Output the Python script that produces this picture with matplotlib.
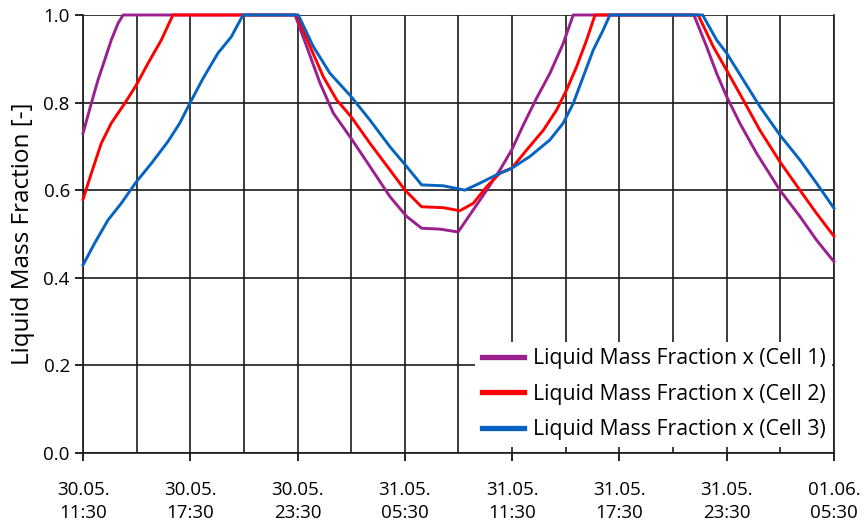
from matplotlib import pyplot as plt
from matplotlib.ticker import MultipleLocator, FuncFormatter
from datetime import datetime, timedelta

plt.rcParams['font.family'] = ['Open Sans', 'DejaVu Sans']

# start of the time axis (hours are counted from here)
start = datetime(2024, 5, 30, 11, 30)

# Cell 1: hours after start, liquid mass fraction
cell1_h = [0, 0.46, 0.84, 1.21, 1.58, 1.96, 2.24, 11.86, 12.51, 13.26, 14.0, 15.0, 16.05, 17.17,
           18.10, 18.94, 19.97, 20.90, 20.99, 21.83, 22.58, 23.32, 23.98, 24.63, 25.37, 26.12,
           26.86, 27.42, 34.17, 34.88, 35.44, 36.0, 36.74, 37.68, 38.98, 40.10, 41.03, 42.0]
cell1_x = [0.730, 0.798, 0.852, 0.897, 0.943, 0.981, 1.0, 1.0, 0.928, 0.844, 0.776, 0.718, 0.654,
           0.585, 0.540, 0.513, 0.511, 0.505, 0.505, 0.555, 0.600, 0.646, 0.692, 0.749, 0.810,
           0.867, 0.935, 1.0, 1.0, 0.928, 0.867, 0.814, 0.753, 0.684, 0.600, 0.540, 0.486, 0.437]

# Cell 2
cell2_h = [0, 0.46, 1.02, 1.58, 2.33, 2.98, 3.64, 4.38, 5.03, 11.95, 12.70, 13.44, 14.19, 14.99,
           16.05, 17.17, 18.01, 18.94, 20.15, 21.08, 21.83, 22.58, 23.32, 23.98, 24.82, 25.75,
           26.49, 27.05, 27.61, 28.17, 28.64, 34.41, 35.25, 36.0, 36.93, 37.86, 38.98, 40.10,
           41.03, 42.0]
cell2_x = [0.579, 0.638, 0.707, 0.753, 0.798, 0.840, 0.890, 0.943, 1.0, 1.0, 0.928, 0.859, 0.806,
           0.768, 0.707, 0.646, 0.600, 0.562, 0.560, 0.553, 0.570, 0.608, 0.639, 0.650, 0.692,
           0.737, 0.783, 0.829, 0.882, 0.943, 1.0, 1.0, 0.928, 0.874, 0.806, 0.737, 0.665, 0.600,
           0.547, 0.495]

# Cell 3
cell3_h = [0, 0.65, 1.40, 2.14, 2.98, 3.82, 4.75, 5.41, 5.97, 6.71, 7.55, 8.29, 8.95, 12.04,
           12.88, 13.81, 14.99, 16.05, 17.17, 18.10, 18.94, 20.15, 21.36, 22.20, 23.13, 23.98,
           25.00, 26.12, 26.86, 27.42, 27.98, 28.54, 29.10, 29.47, 34.66, 35.44, 36.0, 36.93,
           37.86, 38.98, 40.10, 41.03, 42.0]
cell3_x = [0.429, 0.479, 0.532, 0.570, 0.619, 0.661, 0.711, 0.753, 0.798, 0.855, 0.913, 0.950,
           1.0, 1.0, 0.928, 0.867, 0.814, 0.760, 0.699, 0.654, 0.612, 0.610, 0.600, 0.616, 0.635,
           0.650, 0.677, 0.715, 0.753, 0.798, 0.859, 0.920, 0.966, 1.0, 1.0, 0.943, 0.913, 0.852,
           0.791, 0.726, 0.669, 0.616, 0.559]

labels = ['Liquid Mass Fraction x (Cell 1)',
          'Liquid Mass Fraction x (Cell 2)',
          'Liquid Mass Fraction x (Cell 3)']
colors = ['#9b1f8f', '#ff0000', '#0563c1']

fig = plt.figure(figsize=(8.65, 5.26), dpi=100)
ax = fig.add_axes([0.096, 0.139, 0.868, 0.8325])

series = [(cell1_h, cell1_x), (cell2_h, cell2_x), (cell3_h, cell3_x)]
for (h, x), lab, c in zip(series, labels, colors):
    ax.plot(h, x, color=c, lw=2.1, label=lab, clip_on=False, zorder=3)

ax.set_xlim(0, 42)
ax.set_ylim(0, 1.0)


def time_label(h, pos):
    t = start + timedelta(hours=h)
    return t.strftime('%d.%m.\n%H:%M')


# labels every 6 hours, grid every 3 hours
ax.xaxis.set_major_locator(MultipleLocator(6))
ax.xaxis.set_minor_locator(MultipleLocator(3))
ax.xaxis.set_major_formatter(FuncFormatter(time_label))
ax.yaxis.set_major_locator(MultipleLocator(0.2))
ax.yaxis.set_major_formatter(FuncFormatter(lambda v, p: f'{v:.1f}'))

ax.grid(True, which='both', color='#1a1a1a', lw=1.2)
ax.tick_params(axis='x', which='major', length=6, width=1.2, labelsize=13.5, pad=14)
ax.tick_params(axis='x', which='minor', length=0)
ax.tick_params(axis='y', length=6, width=1.2, labelsize=13.5)
for lbl in ax.get_xticklabels():
    lbl.set_linespacing(1.35)

for s in ax.spines.values():
    s.set_color('#1a1a1a')
    s.set_linewidth(1.2)
ax.spines['top'].set_visible(False)

ax.set_ylabel('Liquid Mass Fraction [-]', fontsize=17.5, labelpad=6)

leg = ax.legend(loc='lower right', bbox_to_anchor=(1.006, 0), fontsize=15.3, frameon=True,
                framealpha=1, facecolor='white', edgecolor='none', handlelength=2.0,
                handletextpad=0.4, borderaxespad=0.3, labelspacing=0.68, borderpad=0.3)
leg.set_zorder(5)
for line in leg.get_lines():
    line.set_linewidth(3.8)

fig.savefig('out.png', dpi=100)
